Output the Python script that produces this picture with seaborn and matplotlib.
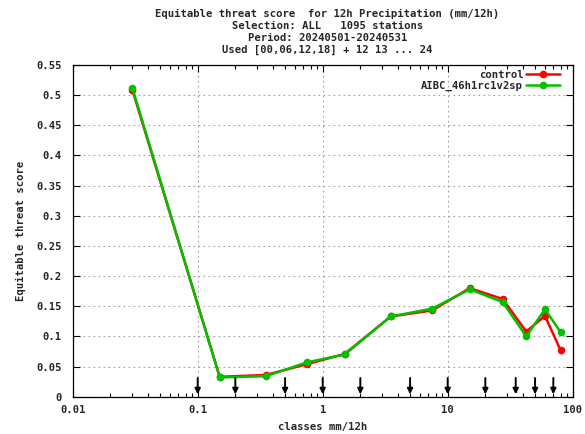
import matplotlib
matplotlib.use("Agg")
import matplotlib.pyplot as plt
import matplotlib.ticker as mticker
import seaborn as sns
import pandas as pd

# ---- data ----
class_mid = [0.03, 0.15, 0.35, 0.75, 1.5, 3.5, 7.5, 15, 27.5, 42.5, 60, 80]
control = [0.509, 0.033, 0.036, 0.054, 0.071, 0.133, 0.143, 0.180, 0.162, 0.108, 0.134, 0.077]
aibc = [0.512, 0.032, 0.034, 0.057, 0.070, 0.133, 0.146, 0.178, 0.157, 0.100, 0.145, 0.107]
series_names = ["control", "AIBC_46h1rc1v2sp"]
class_limits = [0.1, 0.2, 0.5, 1, 2, 5, 10, 20, 35, 50, 70]
xtick_vals = [0.01, 0.1, 1, 10, 100]
xtick_labels = ["0.01", "0.1", "1", "10", "100"]
ytick_vals = [0, 0.05, 0.1, 0.15, 0.2, 0.25, 0.3, 0.35, 0.4, 0.45, 0.5, 0.55]
ytick_labels = ["0", "0.05", "0.1", "0.15", "0.2", "0.25", "0.3", "0.35", "0.4", "0.45", "0.5", "0.55"]
title_lines = [
    "Equitable threat score  for 12h Precipitation (mm/12h)",
    "Selection: ALL   1095 stations",
    "Period: 20240501-20240531",
    "Used [00,06,12,18] + 12 13 ... 24",
]

df = pd.DataFrame({
    "x": class_mid * 2,
    "y": control + aibc,
    "exp": [series_names[0]] * len(class_mid) + [series_names[1]] * len(class_mid),
})

FS = 7.6
sns.set_style("ticks")
plt.rcParams["font.family"] = ["DejaVu Sans Mono"]
plt.rcParams["font.weight"] = "bold"
plt.rcParams["font.size"] = FS

fig = plt.figure(figsize=(5.85, 4.34), dpi=100)
ax = fig.add_axes([72.7 / 585, 1 - 396.7 / 434, (572.7 - 72.7) / 585, (396.7 - 65) / 434])

palette = {series_names[0]: "#ff0000", series_names[1]: "#00c000"}
sns.lineplot(data=df, x="x", y="y", hue="exp", hue_order=series_names, palette=palette,
             marker="o", markersize=5.5, markeredgewidth=0, linewidth=1.8, ax=ax,
             legend=True)

ax.set_xscale("log")
ax.set_xlim(0.01, 100)
ax.set_ylim(0, 0.55)
ax.set_xticks(xtick_vals)
ax.set_xticklabels(xtick_labels)
ax.set_yticks(ytick_vals)
ax.set_yticklabels(ytick_labels)
ax.xaxis.set_minor_locator(mticker.LogLocator(base=10, subs=range(2, 10)))
ax.xaxis.set_minor_formatter(mticker.NullFormatter())

ax.tick_params(which="both", direction="in", top=True, right=True, color="black",
               labelsize=FS)
ax.tick_params(axis="x", which="both", pad=6)
ax.tick_params(axis="y", which="both", pad=8)
ax.tick_params(which="major", length=5, width=0.8)
ax.tick_params(which="minor", length=3, width=0.8)
for lab in ax.get_xticklabels() + ax.get_yticklabels():
    lab.set_fontweight("bold")

ax.grid(True, which="major", linestyle=(0, (1.5, 3)), color="#a0a0a0", linewidth=0.8)
for s in ax.spines.values():
    s.set_color("black")
    s.set_linewidth(0.9)

# class limit arrows
for xv in class_limits:
    ax.annotate("", xy=(xv, 0.004), xytext=(xv, 0.031),
                arrowprops=dict(arrowstyle="-|>", color="black", lw=1.4,
                                mutation_scale=8, shrinkA=0, shrinkB=0))

ax.set_xlabel("classes mm/12h", fontsize=FS, fontweight="bold", labelpad=5)
ax.set_ylabel("Equitable threat score", fontsize=FS, fontweight="bold", labelpad=7)

leg = ax.legend(loc="upper right", frameon=False, markerfirst=False, fontsize=FS,
                handlelength=3.2, handletextpad=0.3, labelspacing=0.05,
                borderpad=0, borderaxespad=0, bbox_to_anchor=(0.975, 0.985))
for t in leg.get_texts():
    t.set_fontweight("bold")

ys = [1 - 14 / 434, 1 - 26 / 434, 1 - 38 / 434, 1 - 50 / 434]
for line, yy in zip(title_lines, ys):
    fig.text(0.56, yy, line, ha="center", va="center", fontsize=FS, fontweight="bold")

fig.savefig("out.png", dpi=100)
